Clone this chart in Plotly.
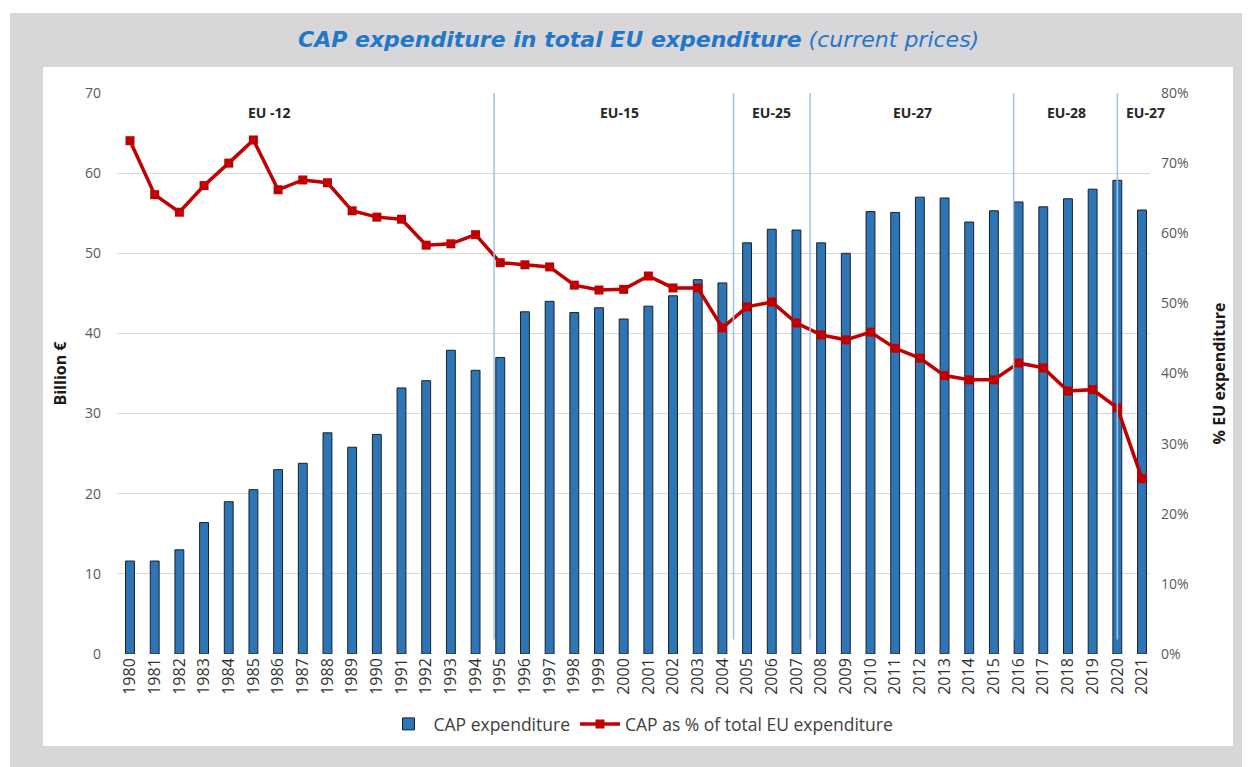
import plotly.graph_objects as go

years = list(range(1980, 2022))
cap_bn = [11.6, 11.6, 13.0, 16.4, 19.0, 20.5, 23.0, 23.8, 27.6, 25.8,
          27.4, 33.2, 34.1, 37.9, 35.4, 37.0, 42.7, 44.0, 42.6, 43.2,
          41.8, 43.4, 44.7, 46.7, 46.3, 51.3, 53.0, 52.9, 51.3, 50.0,
          55.2, 55.1, 57.0, 56.9, 53.9, 55.3, 56.4, 55.8, 56.8, 58.0,
          59.1, 55.4]
cap_pct = [73.2, 65.5, 63.0, 66.8, 70.0, 73.3, 66.2, 67.6, 67.2, 63.2,
           62.3, 62.0, 58.3, 58.5, 59.8, 55.8, 55.5, 55.2, 52.6, 51.9,
           52.0, 53.9, 52.2, 52.2, 46.5, 49.5, 50.2, 47.2, 45.5, 44.8,
           45.9, 43.6, 42.2, 39.7, 39.1, 39.1, 41.5, 40.8, 37.5, 37.7,
           35.1, 25.0]
era_labels = ["EU -12", "EU-15", "EU-25", "EU-27", "EU-28", "EU-27"]
era_label_x = [1985.67, 1999.85, 2005.97, 2011.69, 2017.93, 2021.13]
era_breaks = [1994.75, 2004.45, 2007.55, 2015.8, 2020.0]

# page body margin offsets the figure by 8px
OFF = 8
W, H = 1250 - OFF, 767 - OFF
L, R, T, B = 117, 1150, 93, 654  # plot area in screen pixels


def px(x):
    return (x - L) / (R - L)


def py(y):
    return (B - y) / (B - T)


fig = go.Figure()
fig.add_trace(go.Bar(
    x=years, y=cap_bn, name="CAP expenditure", width=0.36,
    marker=dict(color="#2e75b6", line=dict(color="#17212e", width=1)),
    yaxis="y"))
fig.add_trace(go.Scatter(
    x=years, y=[v / 100 for v in cap_pct], name="CAP as % of total EU expenditure",
    mode="lines+markers", line=dict(color="#c00000", width=3.5),
    marker=dict(symbol="square", size=9, color="#c00000"),
    yaxis="y2"))

shapes = [
    dict(type="rect", xref="paper", yref="paper", x0=px(10), x1=px(1270),
         y0=py(13), y1=py(790), fillcolor="#d9d6d9", line=dict(width=0), layer="below"),
    dict(type="rect", xref="paper", yref="paper", x0=px(43), x1=px(1233),
         y0=py(67), y1=py(746), fillcolor="white", line=dict(width=0), layer="below"),
]
for xb in era_breaks:
    shapes.append(dict(type="line", xref="x", yref="y", x0=xb, x1=xb, y0=1.8, y1=70,
                       line=dict(color="#9dc3e6", width=1.5), layer="above"))

annotations = [
    dict(xref="paper", yref="paper", x=px(638), y=py(40), showarrow=False,
         text="<b><i>CAP expenditure in total EU expenditure</i></b><i> (current prices)</i>",
         font=dict(family="DejaVu Sans", size=22, color="#1f78c9"),
         xanchor="center", yanchor="middle"),
]
for lab, xl in zip(era_labels, era_label_x):
    annotations.append(dict(xref="x", yref="y", x=xl, y=67.6, text="<b>" + lab + "</b>",
                            showarrow=False, font=dict(family="Open Sans", size=14, color="#262626"),
                            xanchor="center", yanchor="middle"))

fig.update_layout(
    width=W, height=H,
    margin=dict(l=L - OFF, r=W - (R - OFF), t=T - OFF, b=H - (B - OFF), pad=0),
    paper_bgcolor="white", plot_bgcolor="rgba(0,0,0,0)",
    font=dict(family="Open Sans", color="#404040"),
    showlegend=True,
    legend=dict(orientation="h", x=px(641), y=py(724), xanchor="center", yanchor="middle",
                font=dict(size=17.5, color="#404040"), bgcolor="rgba(0,0,0,0)",
                itemwidth=40, tracegroupgap=0),
    xaxis=dict(range=[1979.473, 2021.324], tickmode="array", tickvals=years,
               ticktext=[str(y) for y in years], tickangle=-90,
               tickfont=dict(size=16, color="#333333"), showgrid=False,
               zeroline=False, showline=False, ticks=""),
    yaxis=dict(range=[0, 70], dtick=10, tickfont=dict(size=14, color="#595959"),
               showgrid=True, gridcolor="#d9d9d9", gridwidth=1, zeroline=False,
               showline=False, ticks="", ticklabelstandoff=15,
               title=dict(text="<b>Billion €</b>", font=dict(size=16, color="#1a1a1a"),
                          standoff=14)),
    yaxis2=dict(range=[0, 0.8], dtick=0.1, tickformat=".0%", overlaying="y", side="right",
                tickfont=dict(size=14, color="#595959"), showgrid=False, zeroline=False,
                showline=False, ticks="", ticklabelstandoff=10,
                title=dict(text="<b>% EU expenditure</b>", font=dict(size=16, color="#1a1a1a"),
                           standoff=26)),
    shapes=shapes,
    annotations=annotations,
)

fig.write_html("out.html")
